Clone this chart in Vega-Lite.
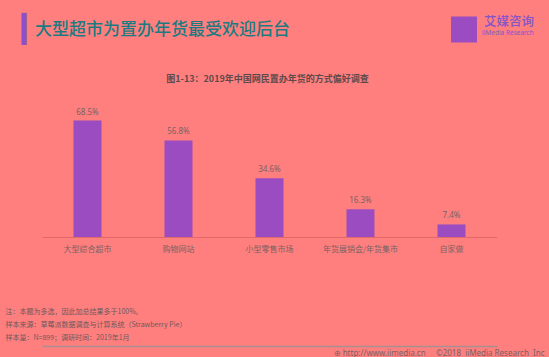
{
  "$schema": "https://vega.github.io/schema/vega-lite/v6.json",
  "width": 455,
  "height": 136,
  "autosize": {"type": "none"},
  "padding": {"left": 42, "top": 101, "right": 52, "bottom": 120},
  "background": "#FF7F7F",
  "title": {
    "text": "大型超市为置办年货最受欢迎后台",
    "anchor": "start",
    "frame": "group",
    "orient": "top",
    "dx": -7,
    "offset": -24,
    "font": "Noto Sans CJK SC",
    "fontSize": 17,
    "fontWeight": 500,
    "color": "#1C7B80"
  },
  "data": {
    "values": [
      {"method": "大型综合超市", "value": 68.5, "label": "68.5%"},
      {"method": "购物网站", "value": 56.8, "label": "56.8%"},
      {"method": "小型零售市场", "value": 34.6, "label": "34.6%"},
      {"method": "年货展销会/年货集市", "value": 16.3, "label": "16.3%"},
      {"method": "自家做", "value": 7.4, "label": "7.4%"}
    ]
  },
  "resolve": {"axis": {"x": "independent", "y": "independent"}},
  "layer": [
    {
      "mark": {"type": "bar", "size": 28},
      "encoding": {
        "x": {
          "field": "method", "type": "nominal", "sort": null,
          "scale": {"paddingInner": 0, "paddingOuter": 0},
          "axis": {
            "orient": "bottom",
            "domainColor": "#E06A6A",
            "domainWidth": 1,
            "ticks": false,
            "labelAngle": 0,
            "labelPadding": 8,
            "labelFont": "Noto Sans CJK SC",
            "labelFontSize": 8,
            "labelColor": "#7A6262",
            "title": ["注：本题为多选，因此加总结果多于100%。", "样本来源：草莓派数据调查与计算系统（Strawberry Pie）", "样本量：N=899；调研时间：2019年1月"],
            "titleX": -37,
            "titleY": 70,
            "titleAlign": "left",
            "titleAnchor": "start",
            "titleBaseline": "top",
            "titleFont": "Noto Sans CJK SC",
            "titleFontSize": 7,
            "titleFontWeight": "normal",
            "titleColor": "#6E5A5A",
            "titleLineHeight": 13
          }
        },
        "y": {
          "field": "value", "type": "quantitative",
          "scale": {"domain": [0, 80]},
          "axis": {
            "orient": "left",
            "labels": false, "ticks": false, "domain": false, "grid": false,
            "title": "图1-13：2019年中国网民置办年货的方式偏好调查",
            "titleAngle": 0,
            "titleX": 225,
            "titleY": -23,
            "titleAlign": "center",
            "titleBaseline": "middle",
            "titleFont": "Noto Sans CJK SC",
            "titleFontSize": 9,
            "titleFontWeight": "bold",
            "titleColor": "#5E4A4A"
          }
        },
        "color": {
          "datum": "iiMedia Research",
          "scale": {"range": ["#9A4CC0"]},
          "legend": {
            "orient": "none",
            "legendX": 409,
            "legendY": -85,
            "title": "艾媒咨询",
            "titleFont": "Noto Sans CJK SC",
            "titleFontSize": 12.5,
            "titleFontWeight": 500,
            "titleColor": "#8355C8",
            "titleAnchor": "end",
            "titlePadding": -12,
            "padding": 0,
            "symbolType": "square",
            "symbolSize": 676,
            "symbolStrokeWidth": 0,
            "labelFont": "Noto Sans",
            "labelFontSize": 6.5,
            "labelColor": "#8355C8",
            "labelOffset": 5,
            "labelBaseline": "top"
          }
        }
      }
    },
    {
      "mark": {"type": "text", "baseline": "bottom", "dy": -4, "font": "Noto Sans", "fontSize": 8, "color": "#7A6262"},
      "encoding": {
        "x": {
          "field": "method", "type": "nominal", "sort": null,
          "axis": {
            "orient": "top",
            "offset": -245,
            "labels": false, "ticks": false,
            "domainColor": "#A89090",
            "domainWidth": 1.5,
            "title": "▎",
            "titleX": -21,
            "titleY": -317,
            "titleAlign": "left",
            "titleBaseline": "middle",
            "titleFont": "DejaVu Sans",
            "titleFontSize": 27,
            "titleFontWeight": "normal",
            "titleColor": "#8E4FC8"
          }
        },
        "y": {
          "field": "value", "type": "quantitative",
          "axis": {
            "orient": "right",
            "labels": false, "ticks": false, "domain": false, "grid": false,
            "title": "⊕ http://www.iimedia.cn\u00a0\u00a0\u00a0\u00a0\u00a0©2018\u00a0\u00a0iiMedia Research\u00a0\u00a0Inc",
            "titleAngle": 0,
            "titleX": 47,
            "titleY": 252,
            "titleAlign": "right",
            "titleBaseline": "middle",
            "titleFont": "Noto Sans",
            "titleFontSize": 8,
            "titleFontWeight": "normal",
            "titleColor": "#7A6262"
          }
        },
        "text": {"field": "label"}
      }
    }
  ],
  "config": {
    "view": {"stroke": null}
  }
}
